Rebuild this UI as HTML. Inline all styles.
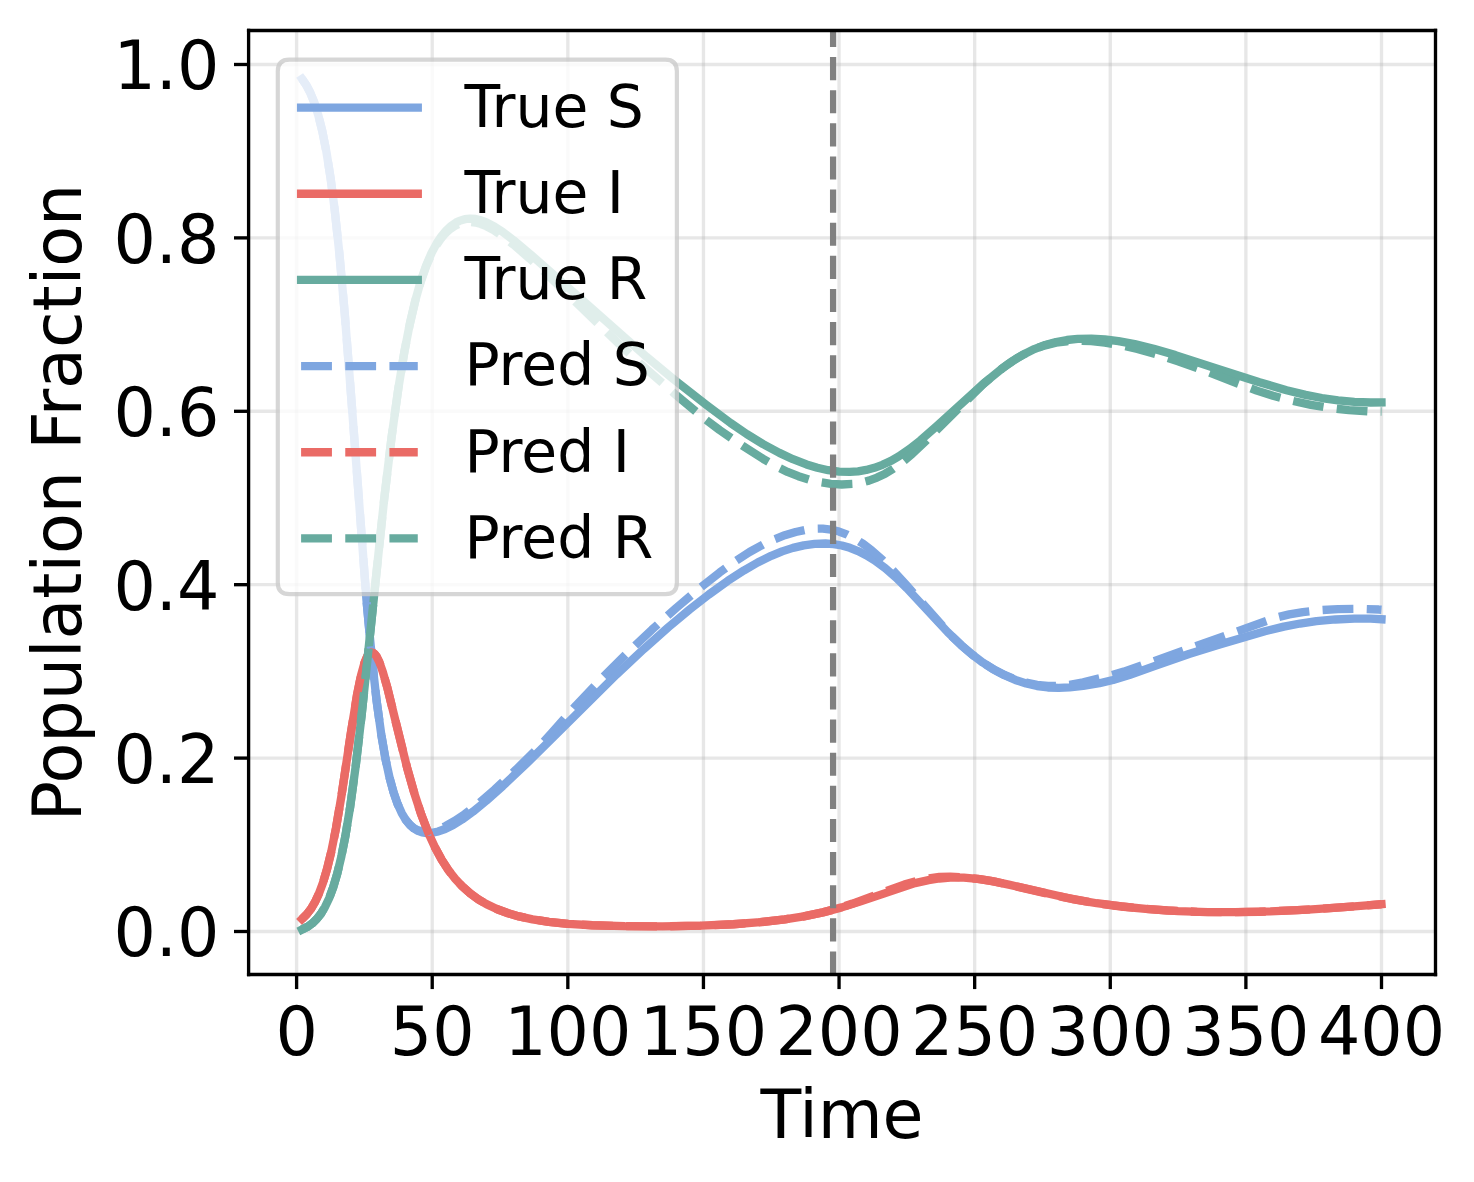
<!DOCTYPE html>
<html><head><meta charset="utf-8"><title>SIR model: true vs predicted</title>
<style>html,body{margin:0;padding:0;background:#fff;}body{width:1474px;height:1182px;overflow:hidden;}svg{display:block;}</style>
</head><body>
<svg width="1474" height="1182" viewBox="0 0 353.76 283.68">
 <defs>
  <style type="text/css">*{stroke-linejoin: round; stroke-linecap: butt}</style>
 </defs>
 <g id="figure_1">
  <g id="patch_1">
   <path d="M 0 283.68 
L 353.76 283.68 
L 353.76 0 
L 0 0 
z
" style="fill: #ffffff"/>
  </g>
  <g id="axes_1">
   <g id="patch_2">
    <path d="M 59.664 233.88 
L 344.52 233.88 
L 344.52 7.32 
L 59.664 7.32 
z
" style="fill: #ffffff"/>
   </g>
   <g id="matplotlib.axis_1">
    <g id="xtick_1">
     <g id="line2d_1">
      <path d="M 71.185563 233.88 
L 71.185563 7.32 
" clip-path="url(#p2737728945)" style="fill: none; stroke: #b0b0b0; stroke-opacity: 0.3; stroke-width: 0.8; stroke-linecap: square"/>
     </g>
     <g id="line2d_2">
      <defs>
       <path id="m1504cfccaf" d="M 0 0 
L 0 3.5 
" style="stroke: #000000; stroke-width: 0.8"/>
      </defs>
      <g>
       <use href="#m1504cfccaf" x="71.185563" y="233.88" style="stroke: #000000; stroke-width: 0.8"/>
      </g>
     </g>
     <g id="text_1">
      <text style="font-size: 16px; font-family: 'DejaVu Sans', 'Liberation Sans', sans-serif; text-anchor: middle" x="71.1856" y="253.1200" transform="matrix(1 0 0 1.02 0 -5.0624)">0</text>
     </g>
    </g>
    <g id="xtick_2">
     <g id="line2d_3">
      <path d="M 103.732351 233.88 
L 103.732351 7.32 
" clip-path="url(#p2737728945)" style="fill: none; stroke: #b0b0b0; stroke-opacity: 0.3; stroke-width: 0.8; stroke-linecap: square"/>
     </g>
     <g id="line2d_4">
      <g>
       <use href="#m1504cfccaf" x="103.732351" y="233.88" style="stroke: #000000; stroke-width: 0.8"/>
      </g>
     </g>
     <g id="text_2">
      <text style="font-size: 16px; font-family: 'DejaVu Sans', 'Liberation Sans', sans-serif; text-anchor: middle" x="103.7324" y="253.1200" transform="matrix(1 0 0 1.02 0 -5.0624)">50</text>
     </g>
    </g>
    <g id="xtick_3">
     <g id="line2d_5">
      <path d="M 136.27914 233.88 
L 136.27914 7.32 
" clip-path="url(#p2737728945)" style="fill: none; stroke: #b0b0b0; stroke-opacity: 0.3; stroke-width: 0.8; stroke-linecap: square"/>
     </g>
     <g id="line2d_6">
      <g>
       <use href="#m1504cfccaf" x="136.27914" y="233.88" style="stroke: #000000; stroke-width: 0.8"/>
      </g>
     </g>
     <g id="text_3">
      <text style="font-size: 16px; font-family: 'DejaVu Sans', 'Liberation Sans', sans-serif; text-anchor: middle" x="136.2791" y="253.1200" transform="matrix(1 0 0 1.02 0 -5.0624)">100</text>
     </g>
    </g>
    <g id="xtick_4">
     <g id="line2d_7">
      <path d="M 168.825928 233.88 
L 168.825928 7.32 
" clip-path="url(#p2737728945)" style="fill: none; stroke: #b0b0b0; stroke-opacity: 0.3; stroke-width: 0.8; stroke-linecap: square"/>
     </g>
     <g id="line2d_8">
      <g>
       <use href="#m1504cfccaf" x="168.825928" y="233.88" style="stroke: #000000; stroke-width: 0.8"/>
      </g>
     </g>
     <g id="text_4">
      <text style="font-size: 16px; font-family: 'DejaVu Sans', 'Liberation Sans', sans-serif; text-anchor: middle" x="168.8259" y="253.1200" transform="matrix(1 0 0 1.02 0 -5.0624)">150</text>
     </g>
    </g>
    <g id="xtick_5">
     <g id="line2d_9">
      <path d="M 201.372716 233.88 
L 201.372716 7.32 
" clip-path="url(#p2737728945)" style="fill: none; stroke: #b0b0b0; stroke-opacity: 0.3; stroke-width: 0.8; stroke-linecap: square"/>
     </g>
     <g id="line2d_10">
      <g>
       <use href="#m1504cfccaf" x="201.372716" y="233.88" style="stroke: #000000; stroke-width: 0.8"/>
      </g>
     </g>
     <g id="text_5">
      <text style="font-size: 16px; font-family: 'DejaVu Sans', 'Liberation Sans', sans-serif; text-anchor: middle" x="201.3727" y="253.1200" transform="matrix(1 0 0 1.02 0 -5.0624)">200</text>
     </g>
    </g>
    <g id="xtick_6">
     <g id="line2d_11">
      <path d="M 233.919504 233.88 
L 233.919504 7.32 
" clip-path="url(#p2737728945)" style="fill: none; stroke: #b0b0b0; stroke-opacity: 0.3; stroke-width: 0.8; stroke-linecap: square"/>
     </g>
     <g id="line2d_12">
      <g>
       <use href="#m1504cfccaf" x="233.919504" y="233.88" style="stroke: #000000; stroke-width: 0.8"/>
      </g>
     </g>
     <g id="text_6">
      <text style="font-size: 16px; font-family: 'DejaVu Sans', 'Liberation Sans', sans-serif; text-anchor: middle" x="233.9195" y="253.1200" transform="matrix(1 0 0 1.02 0 -5.0624)">250</text>
     </g>
    </g>
    <g id="xtick_7">
     <g id="line2d_13">
      <path d="M 266.466292 233.88 
L 266.466292 7.32 
" clip-path="url(#p2737728945)" style="fill: none; stroke: #b0b0b0; stroke-opacity: 0.3; stroke-width: 0.8; stroke-linecap: square"/>
     </g>
     <g id="line2d_14">
      <g>
       <use href="#m1504cfccaf" x="266.466292" y="233.88" style="stroke: #000000; stroke-width: 0.8"/>
      </g>
     </g>
     <g id="text_7">
      <text style="font-size: 16px; font-family: 'DejaVu Sans', 'Liberation Sans', sans-serif; text-anchor: middle" x="266.4663" y="253.1200" transform="matrix(1 0 0 1.02 0 -5.0624)">300</text>
     </g>
    </g>
    <g id="xtick_8">
     <g id="line2d_15">
      <path d="M 299.013081 233.88 
L 299.013081 7.32 
" clip-path="url(#p2737728945)" style="fill: none; stroke: #b0b0b0; stroke-opacity: 0.3; stroke-width: 0.8; stroke-linecap: square"/>
     </g>
     <g id="line2d_16">
      <g>
       <use href="#m1504cfccaf" x="299.013081" y="233.88" style="stroke: #000000; stroke-width: 0.8"/>
      </g>
     </g>
     <g id="text_8">
      <text style="font-size: 16px; font-family: 'DejaVu Sans', 'Liberation Sans', sans-serif; text-anchor: middle" x="299.0131" y="253.1200" transform="matrix(1 0 0 1.02 0 -5.0624)">350</text>
     </g>
    </g>
    <g id="xtick_9">
     <g id="line2d_17">
      <path d="M 331.559869 233.88 
L 331.559869 7.32 
" clip-path="url(#p2737728945)" style="fill: none; stroke: #b0b0b0; stroke-opacity: 0.3; stroke-width: 0.8; stroke-linecap: square"/>
     </g>
     <g id="line2d_18">
      <g>
       <use href="#m1504cfccaf" x="331.559869" y="233.88" style="stroke: #000000; stroke-width: 0.8"/>
      </g>
     </g>
     <g id="text_9">
      <text style="font-size: 16px; font-family: 'DejaVu Sans', 'Liberation Sans', sans-serif; text-anchor: middle" x="331.5599" y="253.1200" transform="matrix(1 0 0 1.02 0 -5.0624)">400</text>
     </g>
    </g>
    <g id="text_10">
     <text style="font-size: 16px; font-family: 'DejaVu Sans', 'Liberation Sans', sans-serif; text-anchor: middle" x="202.0920" y="273.2000" transform="matrix(1 0 0 1.02 0 -5.4640)">Time</text>
    </g>
   </g>
   <g id="matplotlib.axis_2">
    <g id="ytick_1">
     <g id="line2d_19">
      <path d="M 59.664 223.559118 
L 344.52 223.559118 
" clip-path="url(#p2737728945)" style="fill: none; stroke: #b0b0b0; stroke-opacity: 0.3; stroke-width: 0.8; stroke-linecap: square"/>
     </g>
     <g id="line2d_20">
      <defs>
       <path id="m5d545ce8f8" d="M 0 0 
L -3.5 0 
" style="stroke: #000000; stroke-width: 0.8"/>
      </defs>
      <g>
       <use href="#m5d545ce8f8" x="59.664" y="223.559118" style="stroke: #000000; stroke-width: 0.8"/>
      </g>
     </g>
     <g id="text_11">
      <text style="font-size: 16px; font-family: 'DejaVu Sans', 'Liberation Sans', sans-serif; text-anchor: end" x="52.6640" y="229.5591" transform="matrix(1 0 0 1.02 0 -4.5912)">0.0</text>
     </g>
    </g>
    <g id="ytick_2">
     <g id="line2d_21">
      <path d="M 59.664 181.94266 
L 344.52 181.94266 
" clip-path="url(#p2737728945)" style="fill: none; stroke: #b0b0b0; stroke-opacity: 0.3; stroke-width: 0.8; stroke-linecap: square"/>
     </g>
     <g id="line2d_22">
      <g>
       <use href="#m5d545ce8f8" x="59.664" y="181.94266" style="stroke: #000000; stroke-width: 0.8"/>
      </g>
     </g>
     <g id="text_12">
      <text style="font-size: 16px; font-family: 'DejaVu Sans', 'Liberation Sans', sans-serif; text-anchor: end" x="52.6640" y="187.9427" transform="matrix(1 0 0 1.02 0 -3.7589)">0.2</text>
     </g>
    </g>
    <g id="ytick_3">
     <g id="line2d_23">
      <path d="M 59.664 140.326201 
L 344.52 140.326201 
" clip-path="url(#p2737728945)" style="fill: none; stroke: #b0b0b0; stroke-opacity: 0.3; stroke-width: 0.8; stroke-linecap: square"/>
     </g>
     <g id="line2d_24">
      <g>
       <use href="#m5d545ce8f8" x="59.664" y="140.326201" style="stroke: #000000; stroke-width: 0.8"/>
      </g>
     </g>
     <g id="text_13">
      <text style="font-size: 16px; font-family: 'DejaVu Sans', 'Liberation Sans', sans-serif; text-anchor: end" x="52.6640" y="146.3262" transform="matrix(1 0 0 1.02 0 -2.9265)">0.4</text>
     </g>
    </g>
    <g id="ytick_4">
     <g id="line2d_25">
      <path d="M 59.664 98.709743 
L 344.52 98.709743 
" clip-path="url(#p2737728945)" style="fill: none; stroke: #b0b0b0; stroke-opacity: 0.3; stroke-width: 0.8; stroke-linecap: square"/>
     </g>
     <g id="line2d_26">
      <g>
       <use href="#m5d545ce8f8" x="59.664" y="98.709743" style="stroke: #000000; stroke-width: 0.8"/>
      </g>
     </g>
     <g id="text_14">
      <text style="font-size: 16px; font-family: 'DejaVu Sans', 'Liberation Sans', sans-serif; text-anchor: end" x="52.6640" y="104.7097" transform="matrix(1 0 0 1.02 0 -2.0942)">0.6</text>
     </g>
    </g>
    <g id="ytick_5">
     <g id="line2d_27">
      <path d="M 59.664 57.093284 
L 344.52 57.093284 
" clip-path="url(#p2737728945)" style="fill: none; stroke: #b0b0b0; stroke-opacity: 0.3; stroke-width: 0.8; stroke-linecap: square"/>
     </g>
     <g id="line2d_28">
      <g>
       <use href="#m5d545ce8f8" x="59.664" y="57.093284" style="stroke: #000000; stroke-width: 0.8"/>
      </g>
     </g>
     <g id="text_15">
      <text style="font-size: 16px; font-family: 'DejaVu Sans', 'Liberation Sans', sans-serif; text-anchor: end" x="52.6640" y="63.0933" transform="matrix(1 0 0 1.02 0 -1.2619)">0.8</text>
     </g>
    </g>
    <g id="ytick_6">
     <g id="line2d_29">
      <path d="M 59.664 15.476826 
L 344.52 15.476826 
" clip-path="url(#p2737728945)" style="fill: none; stroke: #b0b0b0; stroke-opacity: 0.3; stroke-width: 0.8; stroke-linecap: square"/>
     </g>
     <g id="line2d_30">
      <g>
       <use href="#m5d545ce8f8" x="59.664" y="15.476826" style="stroke: #000000; stroke-width: 0.8"/>
      </g>
     </g>
     <g id="text_16">
      <text style="font-size: 16px; font-family: 'DejaVu Sans', 'Liberation Sans', sans-serif; text-anchor: end" x="52.6640" y="21.4768" transform="matrix(1 0 0 1.02 0 -0.4295)">1.0</text>
     </g>
    </g>
    <g id="text_17">
     <text style="font-size: 16px; font-family: 'DejaVu Sans', 'Liberation Sans', sans-serif; text-anchor: middle" x="19.4500" y="120.6000" transform="rotate(-90 19.4500 120.6000) matrix(1 0 0 1.02 0 -2.4120)">Population Fraction</text>
    </g>
   </g>
   <g id="line2d_31">
    <path d="M 72.487435 18.942264 
L 73.463838 20.356849 
L 74.440242 22.197234 
L 75.416646 24.57994 
L 76.393049 27.644937 
L 77.369453 31.554191 
L 78.345856 36.48575 
L 79.32226 42.620202 
L 80.298664 50.117108 
L 81.437801 60.719683 
L 82.739673 75.252954 
L 84.367012 96.319779 
L 87.947159 143.899702 
L 89.249031 158.012941 
L 90.388168 168.209417 
L 91.527306 176.43697 
L 92.503709 182.07882 
L 93.480113 186.600842 
L 94.456517 190.179876 
L 95.43292 192.978375 
L 96.409324 195.13688 
L 97.385728 196.772825 
L 98.362131 197.98253 
L 99.338535 198.84436 
L 100.314939 199.421973 
L 101.291342 199.767089 
L 102.43048 199.931428 
L 103.732351 199.868708 
L 105.196957 199.548859 
L 106.824296 198.953763 
L 108.777103 197.981379 
L 110.892645 196.678969 
L 113.496388 194.801939 
L 116.751067 192.145814 
L 120.656681 188.662337 
L 126.515103 183.116 
L 134.326332 175.414343 
L 147.995983 161.858446 
L 154.505341 155.767305 
L 160.363763 150.571842 
L 165.571249 146.227734 
L 170.127799 142.678935 
L 174.68435 139.405825 
L 178.589964 136.87051 
L 181.844643 134.997407 
L 185.099322 133.390507 
L 187.703065 132.327865 
L 190.306808 131.485907 
L 192.910551 130.880649 
L 195.514294 130.526002 
L 198.118037 130.443998 
L 200.070844 130.585279 
L 202.023652 130.924158 
L 203.976459 131.477837 
L 205.929266 132.253013 
L 207.882074 133.246196 
L 209.834881 134.44934 
L 212.438624 136.36765 
L 215.042367 138.627537 
L 217.64611 141.18462 
L 221.551725 145.374528 
L 227.410147 151.672044 
L 230.664825 154.822204 
L 233.268568 157.059757 
L 235.872312 159.016411 
L 238.476055 160.684465 
L 241.079798 162.069026 
L 243.683541 163.183886 
L 246.287284 164.042442 
L 248.891027 164.647226 
L 251.49477 164.993676 
L 254.098513 165.090717 
L 256.702256 164.97725 
L 259.956935 164.625392 
L 263.862549 163.968953 
L 267.117228 163.200351 
L 271.022843 162.012987 
L 276.881265 159.937236 
L 285.34343 156.967656 
L 292.503723 154.737082 
L 303.569631 151.517594 
L 308.126181 150.398643 
L 312.031796 149.643235 
L 315.937411 149.088802 
L 320.493961 148.671651 
L 325.050511 148.46972 
L 328.956126 148.484868 
L 331.559869 148.625381 
L 331.559869 148.625381 
" clip-path="url(#p2737728945)" style="fill: none; stroke: #7ea6e0; stroke-width: 2; stroke-linecap: square"/>
   </g>
   <g id="line2d_32">
    <path d="M 72.487435 220.558225 
L 73.626572 219.437362 
L 74.602976 218.165236 
L 75.579379 216.526636 
L 76.555783 214.434229 
L 77.532187 211.792347 
L 78.50859 208.505059 
L 79.484994 204.490832 
L 80.624132 198.83251 
L 81.926003 191.153429 
L 84.204278 175.966061 
L 85.668884 166.904843 
L 86.645287 162.095984 
L 87.458957 159.158736 
L 88.109893 157.597814 
L 88.598095 156.900086 
L 89.086297 156.600351 
L 89.411764 156.613181 
L 89.899966 156.933223 
L 90.388168 157.586497 
L 91.039104 158.91463 
L 91.852774 161.181774 
L 92.991911 165.172167 
L 94.944718 173.110204 
L 97.711195 184.280041 
L 99.501269 190.600722 
L 101.128608 195.55909 
L 102.755948 199.78607 
L 104.383287 203.351565 
L 106.010626 206.342075 
L 107.637966 208.844028 
L 109.265305 210.936381 
L 110.892645 212.687962 
L 112.845452 214.421814 
L 114.798259 215.832819 
L 116.751067 216.988916 
L 119.35481 218.223037 
L 121.958553 219.183933 
L 124.562296 219.931919 
L 127.816975 220.64077 
L 131.722589 221.249663 
L 136.27914 221.714918 
L 142.137561 222.059898 
L 149.948791 222.283443 
L 159.061891 222.32754 
L 168.174992 222.163802 
L 175.986221 221.821496 
L 182.495579 221.332032 
L 188.354001 220.6586 
L 192.910551 219.928558 
L 197.467101 218.975525 
L 202.023652 217.773373 
L 206.580202 216.330066 
L 219.598917 211.961839 
L 222.853596 211.225393 
L 225.457339 210.837327 
L 228.061082 210.63965 
L 231.315761 210.64981 
L 234.57044 210.921556 
L 237.825119 211.421363 
L 242.381669 212.383133 
L 257.353192 215.767778 
L 263.211614 216.775721 
L 269.070036 217.555755 
L 275.579393 218.192791 
L 282.739687 218.654962 
L 289.89998 218.893306 
L 297.060273 218.922565 
L 304.871503 218.740553 
L 313.984603 218.304303 
L 325.050511 217.534278 
L 331.559869 217.023634 
L 331.559869 217.023634 
" clip-path="url(#p2737728945)" style="fill: none; stroke: #ea6b66; stroke-width: 2; stroke-linecap: square"/>
   </g>
   <g id="line2d_33">
    <path d="M 72.487435 223.094574 
L 73.789306 222.429907 
L 74.928444 221.618623 
L 76.067581 220.51418 
L 77.043985 219.260434 
L 78.020389 217.643023 
L 78.996792 215.571161 
L 79.973196 212.941401 
L 80.9496 209.642013 
L 81.926003 205.561625 
L 82.902407 200.602742 
L 84.041544 193.621442 
L 85.343416 184.056501 
L 86.808021 171.501841 
L 88.923563 151.209228 
L 92.178241 119.994759 
L 93.968315 104.981525 
L 95.595654 93.26827 
L 97.06026 84.367126 
L 98.362131 77.706082 
L 99.664003 72.127918 
L 100.965874 67.518744 
L 102.267746 63.755887 
L 103.569617 60.718235 
L 104.871489 58.294387 
L 106.010626 56.60117 
L 107.149764 55.25139 
L 108.288902 54.202991 
L 109.428039 53.423288 
L 110.241709 53.016505 
L 111.54358 52.604338 
L 112.845452 52.461148 
L 114.147324 52.559456 
L 115.449195 52.871098 
L 116.751067 53.367021 
L 118.703874 54.393096 
L 120.656681 55.676518 
L 123.260424 57.653332 
L 127.166039 60.919038 
L 135.628204 68.363509 
L 155.156277 85.629543 
L 161.665634 91.004309 
L 169.476864 97.121636 
L 175.335285 101.515249 
L 179.2409 104.199687 
L 183.146515 106.598572 
L 187.052129 108.695355 
L 190.306808 110.203015 
L 193.561487 111.467129 
L 196.16523 112.271235 
L 198.768973 112.857589 
L 201.372716 113.196374 
L 203.976459 113.261602 
L 205.929266 113.115837 
L 207.882074 112.790642 
L 209.834881 112.274966 
L 211.787688 111.560239 
L 213.740496 110.642967 
L 215.693303 109.527014 
L 218.297046 107.752943 
L 220.900789 105.702034 
L 224.806404 102.272207 
L 236.523247 91.657967 
L 240.428862 88.493942 
L 243.032605 86.640759 
L 245.636348 85.060425 
L 248.240091 83.779364 
L 250.843834 82.792329 
L 253.447577 82.075174 
L 256.05132 81.598518 
L 258.655063 81.334551 
L 261.909742 81.267402 
L 265.164421 81.455839 
L 268.4191 81.862905 
L 272.324714 82.58834 
L 276.881265 83.696695 
L 282.088751 85.224827 
L 291.201852 88.204151 
L 302.26776 91.748056 
L 308.777117 93.644193 
L 313.333668 94.764908 
L 317.239282 95.526446 
L 321.144897 96.08752 
L 325.050511 96.446101 
L 328.956126 96.596723 
L 331.559869 96.578062 
L 331.559869 96.578062 
" clip-path="url(#p2737728945)" style="fill: none; stroke: #67ab9f; stroke-width: 2; stroke-linecap: square"/>
   </g>
   <g id="line2d_34">
    <path d="M 72.487435 18.942264 
L 73.463838 20.356849 
L 74.440242 22.197234 
L 75.416646 24.57994 
L 76.393049 27.644937 
L 77.369453 31.554191 
L 78.345856 36.48575 
L 79.32226 42.620202 
L 80.298664 50.117108 
L 81.437801 60.719683 
L 82.739673 75.252954 
L 84.367012 96.319779 
L 87.947159 143.899702 
L 89.249031 158.012941 
L 90.388168 168.209416 
L 91.527306 176.436959 
L 92.503709 182.078751 
L 93.480113 186.60051 
L 94.456517 190.178604 
L 95.43292 192.97435 
L 96.409324 195.126172 
L 97.385728 196.748464 
L 98.362131 197.934275 
L 99.338535 198.759574 
L 100.314939 199.287322 
L 101.291342 199.57035 
L 102.43048 199.650103 
L 103.732351 199.480949 
L 105.196957 199.038802 
L 106.98703 198.235839 
L 109.102571 197.028527 
L 111.54358 195.390078 
L 114.798259 192.883826 
L 118.703874 189.516012 
L 123.91136 184.658184 
L 129.118846 179.508454 
L 132.373525 175.949578 
L 138.231947 169.340316 
L 144.741304 162.519381 
L 150.599726 156.674044 
L 156.458148 151.123755 
L 162.31657 145.876187 
L 167.524056 141.490055 
L 172.731542 137.391321 
L 176.637157 134.573413 
L 179.891836 132.480509 
L 183.146515 130.681098 
L 185.750258 129.463869 
L 188.354001 128.45454 
L 190.957744 127.67045 
L 193.561487 127.128036 
L 195.514294 126.899956 
L 197.467101 126.87117 
L 199.419909 127.093205 
L 201.372716 127.579466 
L 203.325523 128.324902 
L 205.278331 129.329336 
L 207.231138 130.580141 
L 209.183945 132.059323 
L 211.787688 134.365988 
L 214.391431 136.984033 
L 217.64611 140.546181 
L 228.061082 152.320567 
L 230.664825 154.821638 
L 233.268568 157.058115 
L 235.872312 159.005577 
L 238.476055 160.649315 
L 241.079798 161.993218 
L 243.683541 163.0533 
L 246.287284 163.845595 
L 248.891027 164.375227 
L 251.49477 164.638112 
L 254.098513 164.628459 
L 256.702256 164.355113 
L 259.956935 163.744087 
L 265.164421 162.488952 
L 269.720971 161.187657 
L 274.277522 159.632917 
L 306.173374 148.252096 
L 309.428053 147.442551 
L 312.682732 146.885649 
L 316.588346 146.454166 
L 321.144897 146.182996 
L 326.352383 146.128192 
L 330.908933 146.289103 
L 331.559869 146.335958 
L 331.559869 146.335958 
" clip-path="url(#p2737728945)" style="fill: none; stroke-dasharray: 7.4,3.2; stroke-dashoffset: 0; stroke: #7ea6e0; stroke-width: 2"/>
   </g>
   <g id="line2d_35">
    <path d="M 72.487435 220.558225 
L 73.626572 219.437362 
L 74.602976 218.165236 
L 75.579379 216.526636 
L 76.555783 214.434229 
L 77.532187 211.792347 
L 78.50859 208.505059 
L 79.484994 204.490832 
L 80.624132 198.83251 
L 81.926003 191.153429 
L 84.204278 175.966061 
L 85.668884 166.904843 
L 86.645287 162.095984 
L 87.458957 159.158736 
L 88.109893 157.597814 
L 88.598095 156.900086 
L 89.086297 156.600351 
L 89.411764 156.613181 
L 89.899966 156.933223 
L 90.388168 157.586497 
L 91.039104 158.91463 
L 91.852774 161.181774 
L 92.991911 165.172167 
L 94.944718 173.110204 
L 97.711195 184.280041 
L 99.501269 190.600722 
L 101.128608 195.55909 
L 102.755948 199.78607 
L 104.383287 203.351565 
L 106.010626 206.342075 
L 107.637966 208.844028 
L 109.265305 210.936381 
L 110.892645 212.687962 
L 112.845452 214.421814 
L 114.798259 215.832819 
L 116.751067 216.988916 
L 119.35481 218.223037 
L 121.958553 219.183933 
L 124.562296 219.931919 
L 127.816975 220.64077 
L 131.722589 221.249663 
L 136.27914 221.714918 
L 142.137561 222.059898 
L 149.948791 222.283443 
L 159.061891 222.32754 
L 168.174992 222.163802 
L 175.986221 221.821496 
L 182.495579 221.332032 
L 188.354001 220.6586 
L 192.910551 219.928558 
L 197.467101 218.975278 
L 201.372716 217.941003 
L 204.627395 216.851389 
L 216.995174 212.301169 
L 220.249853 211.378295 
L 222.853596 210.81546 
L 225.457339 210.469081 
L 228.061082 210.379647 
L 231.315761 210.555501 
L 235.221376 210.998517 
L 239.12699 211.672288 
L 244.334476 212.842871 
L 255.400384 215.380409 
L 261.258806 216.465888 
L 267.117228 217.319408 
L 273.626586 218.024681 
L 280.135944 218.513922 
L 287.296237 218.831395 
L 294.45653 218.935402 
L 302.26776 218.823069 
L 311.38086 218.450688 
L 321.795832 217.780299 
L 331.559869 217.023634 
L 331.559869 217.023634 
" clip-path="url(#p2737728945)" style="fill: none; stroke-dasharray: 7.4,3.2; stroke-dashoffset: 0; stroke: #ea6b66; stroke-width: 2"/>
   </g>
   <g id="line2d_36">
    <path d="M 72.487435 223.094574 
L 73.789306 222.429907 
L 74.928444 221.618623 
L 76.067581 220.51418 
L 77.043985 219.260434 
L 78.020389 217.643023 
L 78.996792 215.571161 
L 79.973196 212.941401 
L 80.9496 209.642013 
L 81.926003 205.561625 
L 82.902407 200.602742 
L 84.041544 193.621442 
L 85.343416 184.056501 
L 86.808021 171.501841 
L 88.923563 151.209232 
L 92.178241 119.995097 
L 93.968315 104.983581 
L 95.595654 93.276107 
L 97.06026 84.388104 
L 98.362131 77.749241 
L 99.664003 72.206236 
L 100.965874 67.646486 
L 102.267746 63.946591 
L 103.406883 61.31729 
L 104.546021 59.174156 
L 105.685159 57.448226 
L 106.824296 56.081012 
L 107.963434 55.024961 
L 109.102571 54.24256 
L 110.241709 53.704493 
L 111.54358 53.358878 
L 112.845452 53.272507 
L 114.147324 53.418543 
L 115.449195 53.770419 
L 116.751067 54.300982 
L 118.703874 55.372235 
L 120.656681 56.696701 
L 123.260424 58.728259 
L 127.166039 62.094109 
L 132.373525 66.882795 
L 139.533818 73.819882 
L 148.646919 82.627779 
L 155.156277 88.606086 
L 162.31657 94.868746 
L 168.825928 100.287701 
L 172.731542 103.244654 
L 177.288093 106.374784 
L 183.146515 110.12535 
L 186.401193 111.988422 
L 189.004936 113.251433 
L 191.60868 114.293732 
L 194.212423 115.122681 
L 196.816166 115.737658 
L 199.419909 116.128464 
L 202.023652 116.275026 
L 204.627395 116.145551 
L 206.580202 115.84333 
L 208.533009 115.344304 
L 210.485817 114.628827 
L 212.438624 113.681053 
L 214.391431 112.496348 
L 216.344239 111.085947 
L 218.947982 108.900553 
L 222.20266 105.808449 
L 235.872312 92.280155 
L 239.12699 89.514383 
L 241.730733 87.537188 
L 244.334476 85.816264 
L 246.93822 84.396479 
L 248.891027 83.545533 
L 250.843834 82.878235 
L 253.447577 82.255553 
L 256.05132 81.902251 
L 258.655063 81.777153 
L 261.909742 81.884241 
L 265.164421 82.225119 
L 269.070036 82.877675 
L 272.97565 83.751914 
L 277.5322 85.008442 
L 282.739687 86.692881 
L 289.89998 89.262167 
L 297.060273 92.041312 
L 301.616824 93.753073 
L 305.522438 94.981106 
L 310.078989 96.182287 
L 314.635539 97.171242 
L 319.192089 97.916767 
L 323.74864 98.423678 
L 328.30519 98.714248 
L 331.559869 98.757167 
L 331.559869 98.757167 
" clip-path="url(#p2737728945)" style="fill: none; stroke-dasharray: 7.4,3.2; stroke-dashoffset: 0; stroke: #67ab9f; stroke-width: 2"/>
   </g>
   <g id="line2d_37">
    <path d="M 199.940657 233.88 
L 199.940657 7.32 
" clip-path="url(#p2737728945)" style="fill: none; stroke-dasharray: 5.55,2.4; stroke-dashoffset: 0; stroke: #808080; stroke-width: 1.5"/>
   </g>
   <g id="patch_3">
    <path d="M 59.664 233.88 
L 59.664 7.32 
" style="fill: none; stroke: #000000; stroke-width: 0.8; stroke-linejoin: miter; stroke-linecap: square"/>
   </g>
   <g id="patch_4">
    <path d="M 344.52 233.88 
L 344.52 7.32 
" style="fill: none; stroke: #000000; stroke-width: 0.8; stroke-linejoin: miter; stroke-linecap: square"/>
   </g>
   <g id="patch_5">
    <path d="M 59.664 233.88 
L 344.52 233.88 
" style="fill: none; stroke: #000000; stroke-width: 0.8; stroke-linejoin: miter; stroke-linecap: square"/>
   </g>
   <g id="patch_6">
    <path d="M 59.664 7.32 
L 344.52 7.32 
" style="fill: none; stroke: #000000; stroke-width: 0.8; stroke-linejoin: miter; stroke-linecap: square"/>
   </g>
   <g id="legend_1">
    <g id="patch_7">
     <path d="M 69.464 142.6 
L 159.654 142.6 
Q 162.454 142.6 162.454 139.8 
L 162.454 17.12 
Q 162.454 14.32 159.654 14.32 
L 69.464 14.32 
Q 66.664 14.32 66.664 17.12 
L 66.664 139.8 
Q 66.664 142.6 69.464 142.6 
z
" style="fill: #ffffff; opacity: 0.8; stroke: #cccccc; stroke-linejoin: miter"/>
    </g>
    <g id="line2d_38">
     <path d="M 72.264 25.82 
L 86.264 25.82 
L 100.264 25.82 
" style="fill: none; stroke: #7ea6e0; stroke-width: 2; stroke-linecap: square"/>
    </g>
    <g id="text_18">
     <text style="font-size: 14px; font-family: 'DejaVu Sans', 'Liberation Sans', sans-serif; text-anchor: start" x="111.4640" y="30.4800" transform="matrix(1 0 0 1.0 0 0.0000)">True S</text>
    </g>
    <g id="line2d_39">
     <path d="M 72.264 46.5 
L 86.264 46.5 
L 100.264 46.5 
" style="fill: none; stroke: #ea6b66; stroke-width: 2; stroke-linecap: square"/>
    </g>
    <g id="text_19">
     <text style="font-size: 14px; font-family: 'DejaVu Sans', 'Liberation Sans', sans-serif; text-anchor: start" x="111.4640" y="51.1600" transform="matrix(1 0 0 1.0 0 0.0000)">True I</text>
    </g>
    <g id="line2d_40">
     <path d="M 72.264 67.18 
L 86.264 67.18 
L 100.264 67.18 
" style="fill: none; stroke: #67ab9f; stroke-width: 2; stroke-linecap: square"/>
    </g>
    <g id="text_20">
     <text style="font-size: 14px; font-family: 'DejaVu Sans', 'Liberation Sans', sans-serif; text-anchor: start" x="111.4640" y="71.8400" transform="matrix(1 0 0 1.0 0 0.0000)">True R</text>
    </g>
    <g id="line2d_41">
     <path d="M 72.264 87.86 
L 86.264 87.86 
L 100.264 87.86 
" style="fill: none; stroke-dasharray: 7.4,3.2; stroke-dashoffset: 0; stroke: #7ea6e0; stroke-width: 2"/>
    </g>
    <g id="text_21">
     <text style="font-size: 14px; font-family: 'DejaVu Sans', 'Liberation Sans', sans-serif; text-anchor: start" x="111.4640" y="92.5200" transform="matrix(1 0 0 1.0 0 0.0000)">Pred S</text>
    </g>
    <g id="line2d_42">
     <path d="M 72.264 108.54 
L 86.264 108.54 
L 100.264 108.54 
" style="fill: none; stroke-dasharray: 7.4,3.2; stroke-dashoffset: 0; stroke: #ea6b66; stroke-width: 2"/>
    </g>
    <g id="text_22">
     <text style="font-size: 14px; font-family: 'DejaVu Sans', 'Liberation Sans', sans-serif; text-anchor: start" x="111.4640" y="113.2000" transform="matrix(1 0 0 1.0 0 0.0000)">Pred I</text>
    </g>
    <g id="line2d_43">
     <path d="M 72.264 129.22 
L 86.264 129.22 
L 100.264 129.22 
" style="fill: none; stroke-dasharray: 7.4,3.2; stroke-dashoffset: 0; stroke: #67ab9f; stroke-width: 2"/>
    </g>
    <g id="text_23">
     <text style="font-size: 14px; font-family: 'DejaVu Sans', 'Liberation Sans', sans-serif; text-anchor: start" x="111.4640" y="133.8800" transform="matrix(1 0 0 1.0 0 0.0000)">Pred R</text>
    </g>
   </g>
  </g>
 </g>
 <defs>
  <clipPath id="p2737728945">
   <rect x="59.664" y="7.32" width="284.856" height="226.56"/>
  </clipPath>
 </defs>
</svg>

</body></html>
